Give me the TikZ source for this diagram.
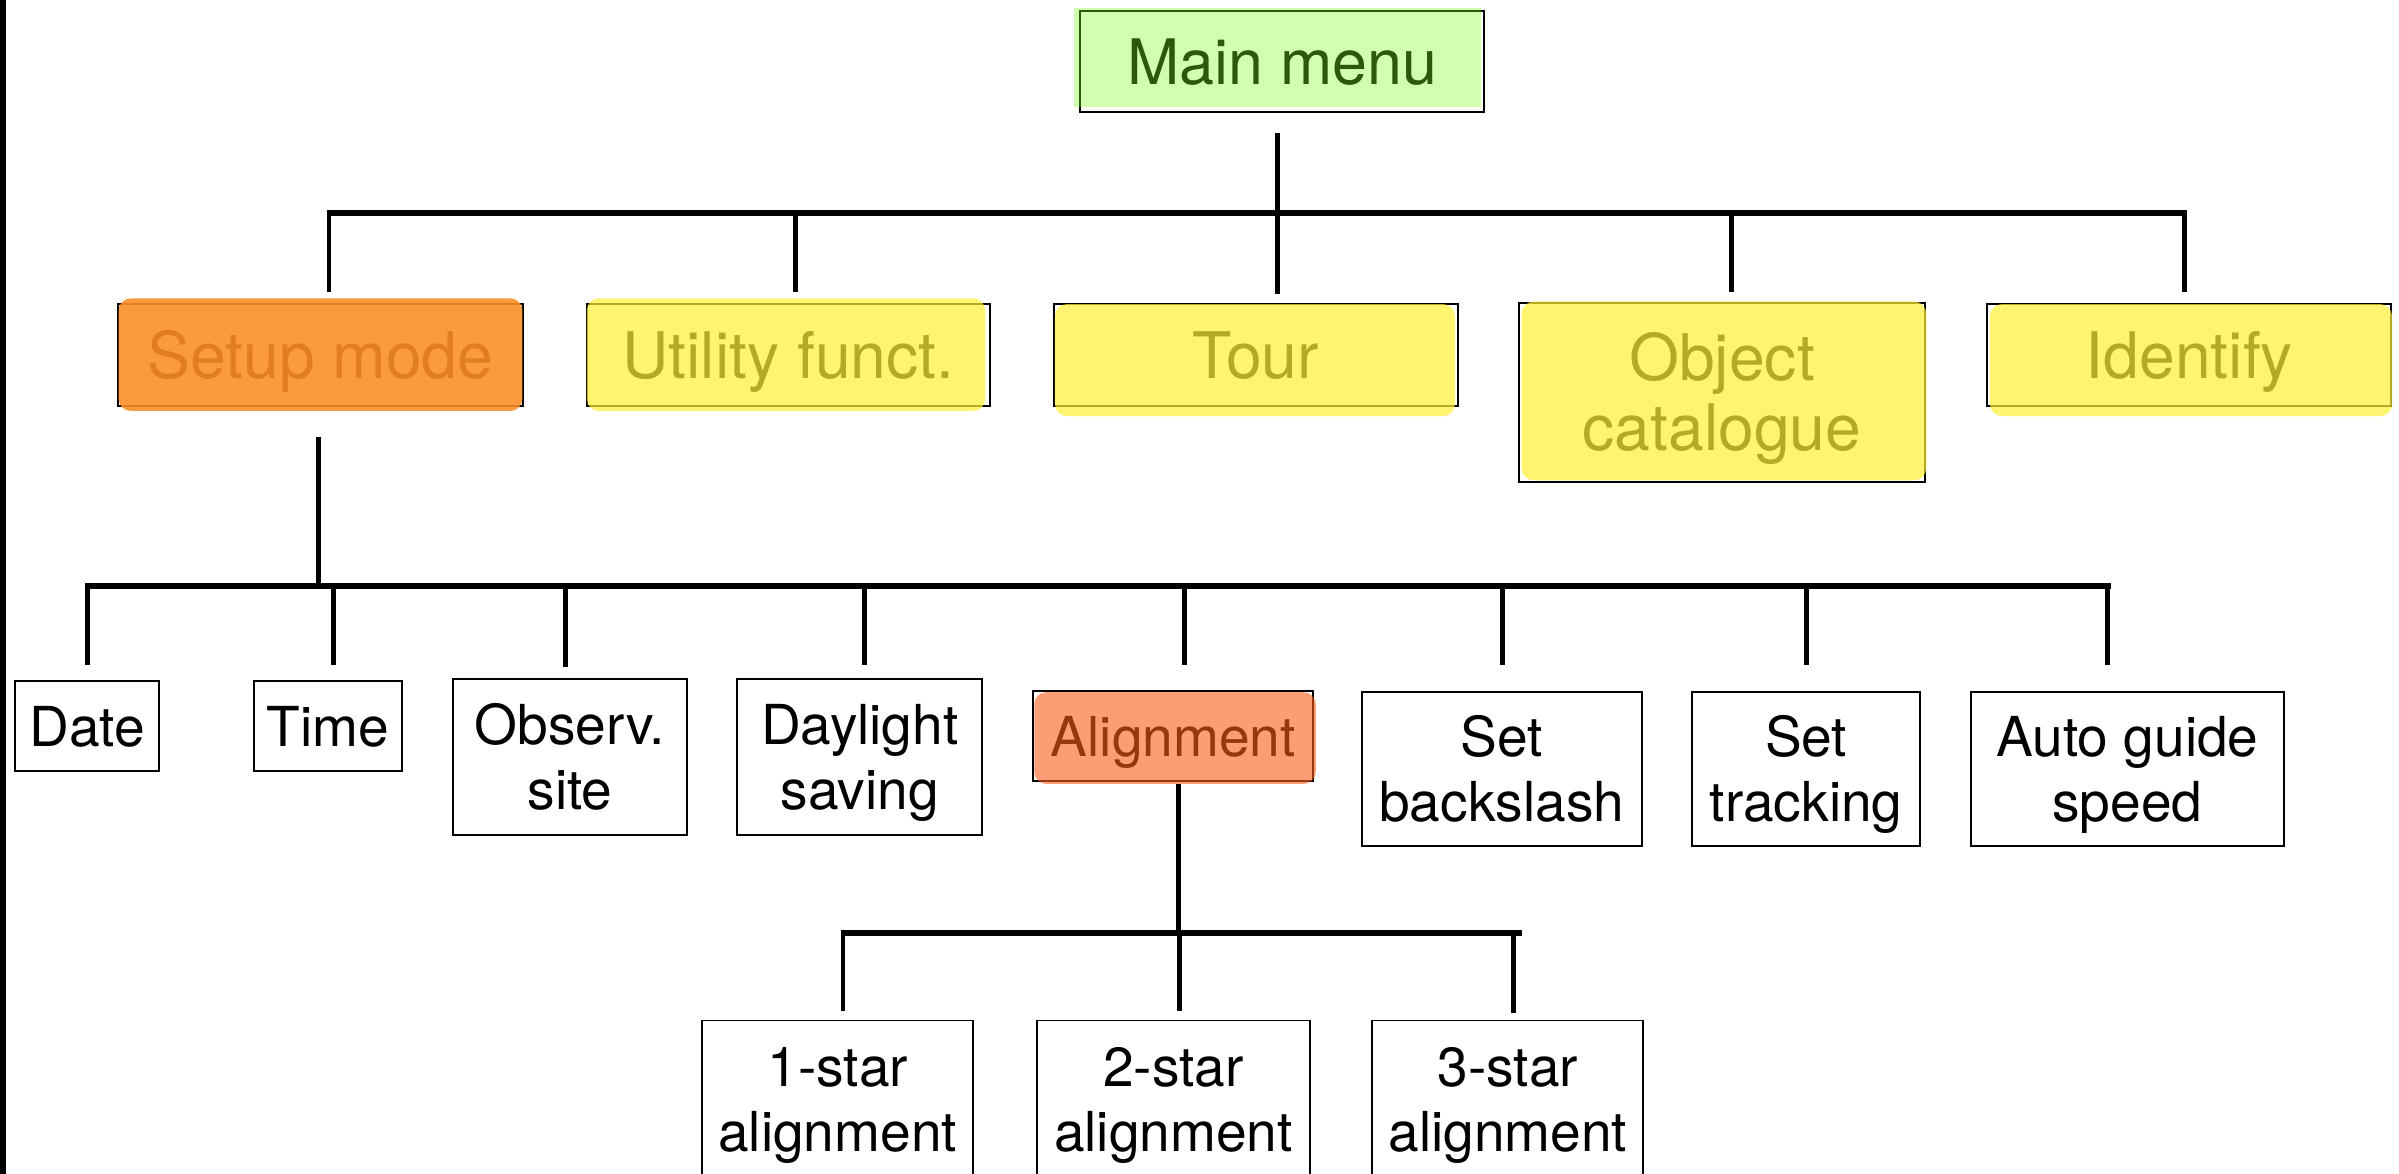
\documentclass[tikz,border=0pt]{standalone}
\usepackage{fontspec}
\setmainfont{TeX Gyre Heros}
\definecolor{hlyellow}{RGB}{255,239,54}
\definecolor{hlorange}{RGB}{252,142,38}
\definecolor{hlsalmon}{RGB}{250,92,25}
\definecolor{hlgreen}{RGB}{123,255,29}
\newcommand\capfirst[1]{\rule{0pt}{\fontcharht\font`H}\smash{#1}}
\newcommand\topfont{\fontsize{42}{46}\selectfont}
\newcommand\mainfont{\fontsize{41}{46}\selectfont}
\newcommand\lowfont{\fontsize{36}{42.5}\selectfont}
\begin{document}
\begin{tikzpicture}[x=1pt,y=-1pt,
  menubox/.style={draw=black, line width=1.3pt, inner sep=0pt, align=center, text=black},
  topbox/.style={menubox, font=\topfont},
  lowbox/.style={menubox, font=\lowfont},
  hbus/.style={line width=3.8pt},
  vconn/.style={line width=3.2pt},
  hl/.style={rounded corners=8pt}]
\useasboundingbox (0,0) rectangle (1568,767);
\clip (0,0) rectangle (1568,767);
\fill[black] (0,0) rectangle (3.9,767);

% ---------- nodes ----------
\node[menubox, font=\mainfont, minimum width=264pt, minimum height=66pt] (main) at (838,40.2) {\capfirst{Main menu}};

\node[topbox, minimum width=264.5pt, minimum height=66.3pt] (setup) at (209.5,231.9) {\capfirst{Setup mode}};
\node[topbox, minimum width=263.5pt, minimum height=66.3pt] (util) at (515.3,231.9) {\capfirst{Utility funct.}};
\node[topbox, minimum width=264.4pt, minimum height=66.3pt] (tour) at (820.8,231.9) {\capfirst{Tour}};
\node[topbox, minimum width=265pt, minimum height=117pt] (object) at (1125.5,256.3) {\capfirst{Object}\\\smash{catalogue}};
\node[topbox, minimum width=264pt, minimum height=66.3pt] (identify) at (1431,231.9) {\capfirst{Identify}};

\node[lowbox, minimum width=94pt, minimum height=59pt] (date) at (57,474.5) {\capfirst{Date}};
\node[lowbox, minimum width=97pt, minimum height=59pt] (time) at (214.5,474.5) {\capfirst{Time}};
\node[lowbox, minimum width=153pt, minimum height=102pt] (observ) at (372.5,495) {\capfirst{Observ.}\\\smash{site}};
\node[lowbox, minimum width=160pt, minimum height=102pt] (daylight) at (562,495) {\capfirst{Daylight}\\\smash{saving}};
\node[lowbox, minimum width=182.9pt, minimum height=58.9pt] (align) at (766.85,481.05) {\capfirst{Alignment}};
\node[lowbox, minimum width=183pt, minimum height=101pt] (backslash) at (981.5,502.5) {\capfirst{Set}\\\smash{backslash}};
\node[lowbox, minimum width=149pt, minimum height=101pt] (tracking) at (1180.5,502.5) {\capfirst{Set}\\\smash{tracking}};
\node[lowbox, minimum width=205pt, minimum height=101pt] (autoguide) at (1390.5,502.5) {\capfirst{Auto guide}\\\smash{speed}};

\node[lowbox, minimum width=177pt, minimum height=103pt] (star1) at (547.5,718.5) {\capfirst{1-star}\\\smash{alignment}};
\node[lowbox, minimum width=178pt, minimum height=103pt] (star2) at (767,718.5) {\capfirst{2-star}\\\smash{alignment}};
\node[lowbox, minimum width=177pt, minimum height=103pt] (star3) at (985.5,718.5) {\capfirst{3-star}\\\smash{alignment}};

% ---------- highlights ----------
\fill[hlgreen, fill opacity=0.35] (702,5.2) rectangle (968,70);
\fill[hlorange, fill opacity=0.89, hl] (77.5,195) rectangle (341.5,268.6);
\fill[hlyellow, fill opacity=0.71, hl] (383.5,195) rectangle (644,268.6);
\fill[hlyellow, fill opacity=0.71, hl] (689.5,198.7) rectangle (951,272);
\fill[hlyellow, fill opacity=0.71, hl] (994.6,197) rectangle (1259,314);
\fill[hlyellow, fill opacity=0.71, hl] (1300.6,198.7) rectangle (1563.5,272);
\fill[hlsalmon, fill opacity=0.6, hl] (676,452.4) rectangle (860,512.4);

% ---------- connector points ----------
\coordinate (b1L) at (213.4,139.4);
\coordinate (b1R) at (1429.2,139.4);
\coordinate (mainT) at (835,87);
\coordinate (setupT) at (215,190.6);
\coordinate (utilT) at (520,190.6);
\coordinate (tourT) at (835,192.4);
\coordinate (objectT) at (1131.8,190.6);
\coordinate (identifyT) at (1428,190.6);

\coordinate (setupB) at (208,285.4);
\coordinate (b2L) at (57,383);
\coordinate (b2R) at (1379.5,383);
\coordinate (dateT) at (57,434.7);
\coordinate (timeT) at (218,434.7);
\coordinate (observT) at (369.5,436);
\coordinate (daylightT) at (565,434.7);
\coordinate (alignT) at (774,434.7);
\coordinate (backslashT) at (982,434.7);
\coordinate (trackingT) at (1181,434.7);
\coordinate (autoguideT) at (1377.5,434.7);

\coordinate (alignB) at (770.5,512.4);
\coordinate (b3L) at (549.5,610);
\coordinate (b3R) at (995,610);
\coordinate (star1T) at (551,661);
\coordinate (star2T) at (771,661);
\coordinate (star3T) at (989,662);

% ---------- connectors ----------
\draw[hbus] (b1L) -- (b1R);
\draw[vconn] (mainT) -- (tourT);
\foreach \t in {setupT,utilT,objectT,identifyT}
  \draw[vconn] (\t |- b1L) -- (\t);

\draw[vconn] (setupB) -- (setupB |- b2L);
\draw[hbus] ([xshift=-1.6pt]b2L) -- (b2R);
\foreach \t in {dateT,timeT,observT,daylightT,alignT,backslashT,trackingT,autoguideT}
  \draw[vconn] (\t |- b2L) -- (\t);

\draw[vconn] (alignB) -- (alignB |- b3L);
\draw[hbus] (b3L) -- (b3R);
\foreach \t in {star1T,star2T,star3T}
  \draw[vconn] (\t |- b3L) -- (\t);
\end{tikzpicture}
\end{document}
